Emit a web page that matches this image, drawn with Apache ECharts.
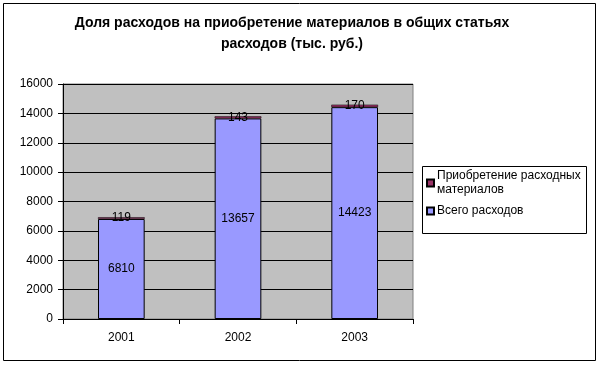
<!DOCTYPE html>
<html><head><meta charset="utf-8">
<script src="https://cdn.jsdelivr.net/npm/echarts@6/dist/echarts.min.js"></script>
<style>html,body{margin:0;padding:0;background:#fff}#c{width:600px;height:366px}</style>
</head><body><div id="c"></div>
<script>
const categories = ['2001', '2002', '2003'];
const totalExpenses = [6810, 13657, 14423];
const materialsExpenses = [119, 143, 170];
const seriesNames = ['Приобретение расходных материалов', 'Всего расходов'];
const yTicks = { min: 0, max: 16000, interval: 2000 };

const FONT = 'Liberation Sans, Arial, sans-serif';
const chart = echarts.init(document.getElementById('c'), null, { renderer: 'canvas' });
chart.setOption({
  animation: false,
  backgroundColor: '#fff',
  textStyle: { fontFamily: FONT },
  graphic: [
    { type: 'rect', shape: { x: 3.5, y: 3.5, width: 592, height: 357 }, style: { fill: 'none', stroke: '#000', lineWidth: 1 }, z: -1 },
    { type: 'rect', shape: { x: 422.5, y: 166.5, width: 164, height: 67 }, style: { fill: 'none', stroke: '#000', lineWidth: 1 } },
    { type: 'text', x: 292, y: 13, style: { text: 'Доля расходов на приобретение материалов в общих статьях\nрасходов (тыс. руб.)', textAlign: 'center', font: 'bold 14px ' + FONT, fill: '#000', lineHeight: 21 } }
  ],
  legend: {
    orient: 'vertical', left: 426, top: 169,
    data: [seriesNames[0], seriesNames[1]],
    itemWidth: 7, itemHeight: 7, itemGap: 7, icon: 'rect',
    formatter: n => n === seriesNames[0] ? 'Приобретение расходных\nматериалов' : n,
    textStyle: { fontSize: 12, color: '#000', fontFamily: FONT, lineHeight: 14, padding: [0, 0, 0, -2] },
    padding: 0
  },
  grid: { left: 63, top: 84, width: 350, height: 235, show: true, backgroundColor: '#C0C0C0', borderColor: '#808080', borderWidth: 1 },
  xAxis: {
    type: 'category', data: categories,
    axisLine: { lineStyle: { color: '#000' } },
    axisTick: { show: true, length: 5, lineStyle: { color: '#000' } },
    axisLabel: { color: '#000', fontSize: 12, margin: 13, fontFamily: FONT }
  },
  yAxis: {
    type: 'value', min: yTicks.min, max: yTicks.max, interval: yTicks.interval,
    axisLine: { show: true, lineStyle: { color: '#000' } },
    axisTick: { show: true, length: 5, lineStyle: { color: '#000' } },
    axisLabel: { color: '#000', fontSize: 12, margin: 10, fontFamily: FONT, formatter: v => String(v) },
    splitLine: { lineStyle: { color: '#000', width: 1 } }
  },
  series: [
    {
      name: seriesNames[1], type: 'bar', stack: 's', data: totalExpenses, barWidth: '40%',
      itemStyle: { color: '#9999FF', borderColor: '#000', borderWidth: 1 },
      label: { show: true, position: 'inside', color: '#000', fontSize: 12, fontFamily: FONT }
    },
    {
      name: seriesNames[0], type: 'bar', stack: 's', data: materialsExpenses, barWidth: '40%',
      itemStyle: { color: '#993366', borderColor: '#000', borderWidth: 0.5 },
      label: { show: true, position: 'inside', color: '#000', fontSize: 12, fontFamily: FONT }
    }
  ]
});
</script></body></html>
